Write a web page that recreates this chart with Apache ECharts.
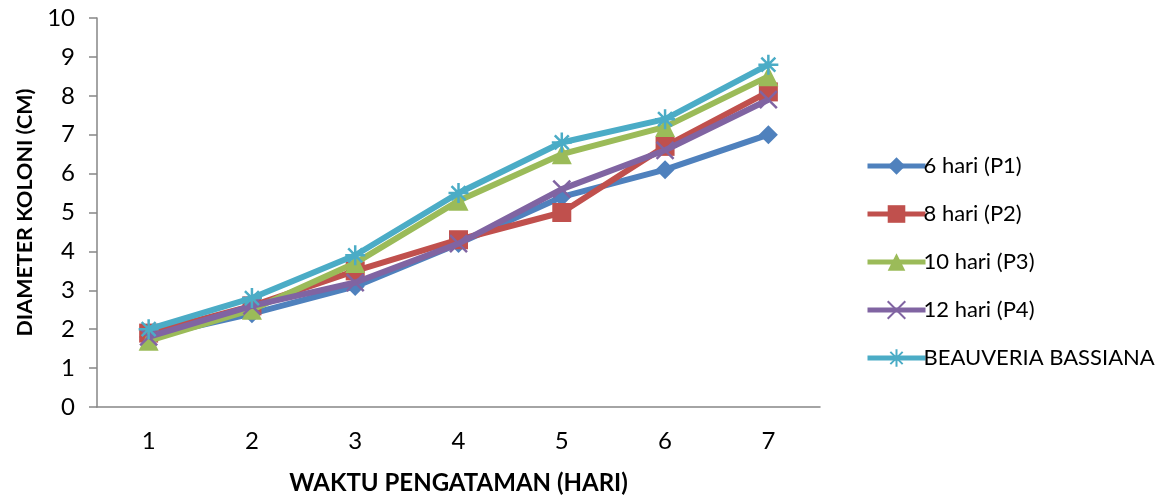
<!DOCTYPE html>
<html><head><meta charset="utf-8">
<script src="https://cdn.jsdelivr.net/npm/echarts@6/dist/echarts.min.js"></script>
<style>html,body{margin:0;padding:0;background:#fff}#c{width:1166px;height:500px}</style>
</head><body><div id="c"></div>
<script>
const categories = ['1','2','3','4','5','6','7'];
const seriesNames = ['6 hari (P1)','8 hari (P2)','10 hari (P3)','12 hari (P4)','BEAUVERIA BASSIANA'];
const p1 = [1.8, 2.4, 3.1, 4.2, 5.4, 6.1, 7.0];
const p2 = [1.9, 2.6, 3.5, 4.3, 5.0, 6.7, 8.1];
const p3 = [1.7, 2.5, 3.7, 5.3, 6.5, 7.2, 8.5];
const p4 = [1.8, 2.6, 3.2, 4.2, 5.6, 6.6, 7.9];
const bb = [2.0, 2.8, 3.9, 5.5, 6.8, 7.4, 8.8];
const values = [p1, p2, p3, p4, bb];
const colors = ['#4F81BD','#C0504D','#9BBB59','#8064A2','#4BACC6'];
const symbols = ['diamond','rect','triangle','path://M0,0L10,10M10,0L0,10','path://M5,0L5,10M0,5L10,5M1.5,1.5L8.5,8.5M8.5,1.5L1.5,8.5'];
const symbolSizes = [19,19,20,17,20];
const font = 'Lato, "Open Sans", sans-serif';
const chart = echarts.init(document.getElementById('c'));
chart.setOption({
  animation:false,
  grid:{left:97,right:346,top:18,bottom:91},
  legend:{orient:'vertical',left:860,top:150,itemGap:26,itemWidth:58,itemHeight:22,
    lineStyle:{width:5},
    textStyle:{fontSize:22,color:'#000',fontFamily:font,padding:[0,0,0,-7]},
    data:seriesNames},
  xAxis:{type:'category',data:categories,boundaryGap:true,
    name:'WAKTU PENGATAMAN (HARI)',nameLocation:'middle',nameGap:64,
    nameTextStyle:{fontSize:24,fontWeight:'bold',color:'#000',fontFamily:font},
    axisLine:{lineStyle:{color:'#868686',width:1.5}},axisTick:{show:false},
    axisLabel:{fontSize:24,color:'#000',margin:22,fontFamily:font}},
  yAxis:{type:'value',min:0,max:10,interval:1,
    name:'DIAMETER KOLONI (CM)',nameLocation:'middle',nameGap:56,
    nameTextStyle:{fontSize:21.5,fontWeight:'bold',color:'#000',fontFamily:font},
    axisLine:{show:true,lineStyle:{color:'#868686',width:1.5}},
    axisTick:{show:true,length:8,lineStyle:{color:'#868686',width:1.5}},
    splitLine:{show:false},
    axisLabel:{fontSize:24,color:'#000',margin:22,fontFamily:font}},
  series: seriesNames.map((n,i)=>({
    name:n,type:'line',data:values[i],symbol:symbols[i],symbolSize:symbolSizes[i],
    lineStyle:{color:colors[i],width:6},
    itemStyle:{color:colors[i],borderColor:colors[i],borderWidth:(i>=3?2.5:0)},
    z:2+i
  }))
});
</script></body></html>
